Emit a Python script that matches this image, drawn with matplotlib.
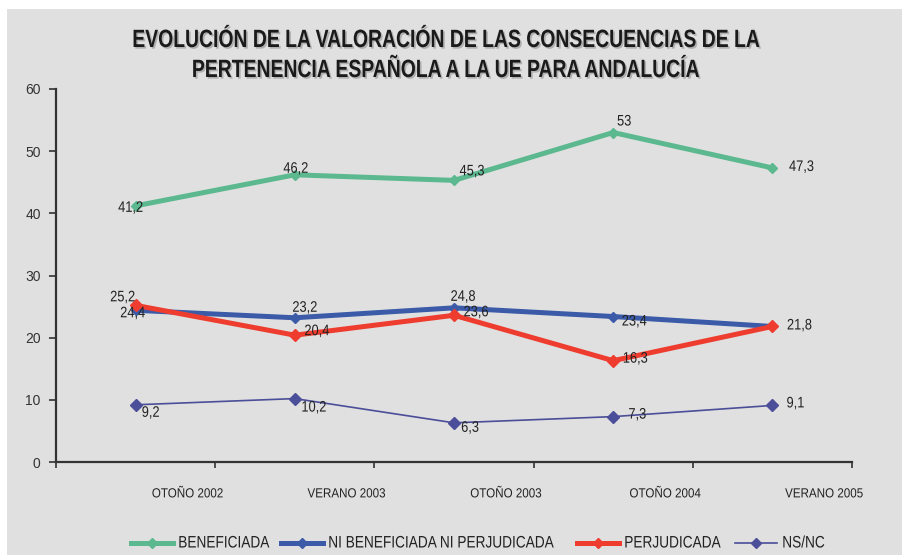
import matplotlib
matplotlib.use("Agg")
import matplotlib.pyplot as plt
import matplotlib.transforms as mtransforms
from matplotlib.transforms import Affine2D
from matplotlib.patches import Rectangle
from matplotlib.lines import Line2D
from matplotlib.patheffects import AbstractPathEffect

# ---------------- data ----------------
categories = ["OTOÑO 2002", "VERANO 2003", "OTOÑO 2003", "OTOÑO 2004", "VERANO 2005"]
beneficiada = [41.2, 46.2, 45.3, 53, 47.3]
ni_ni = [24.4, 23.2, 24.8, 23.4, 21.8]
perjudicada = [25.2, 20.4, 23.6, 16.3, 21.8]
nsnc = [9.2, 10.2, 6.3, 7.3, 9.1]
series_names = ["BENEFICIADA", "NI BENEFICIADA NI PERJUDICADA", "PERJUDICADA", "NS/NC"]
y_ticks = [0, 10, 20, 30, 40, 50, 60]
title_lines = ["EVOLUCIÓN DE LA VALORACIÓN DE LAS CONSECUENCIAS DE LA",
               "PERTENENCIA ESPAÑOLA A LA UE PARA ANDALUCÍA"]

# ---------------- styles ----------------
plt.rcParams["font.family"] = ["Liberation Sans", "DejaVu Sans"]


class Condense(AbstractPathEffect):
    """Horizontally squeeze text glyphs (emulates a narrow typeface)."""

    def __init__(self, sx=0.82, anchor="center", offset=(0, 0), color=None):
        super().__init__(offset)
        self._sx = sx
        self._anchor = anchor
        self._color = color

    def draw_path(self, renderer, gc, tpath, affine, rgbFace=None):
        ext = tpath.get_extents()
        cx = ext.x0 if self._anchor == "left" else (ext.x0 + ext.x1) / 2
        t = (Affine2D().translate(-cx, 0).scale(self._sx, 1).translate(cx, 0)
             + affine + self._offset_transform(renderer))
        if self._color is not None:
            gc0 = renderer.new_gc()
            gc0.copy_properties(gc)
            gc0.set_foreground(self._color)
            renderer.draw_path(gc0, tpath, t, matplotlib.colors.to_rgba(self._color))
            gc0.restore()
        else:
            renderer.draw_path(gc, tpath, t, rgbFace)


colors = ["#5cb88f", "#3b5ba8", "#ee3d2f", "#4b4e98"]
lws = [3.6, 3.6, 3.6, 1.2]
msizes = [5.5, 5.5, 6.5, 6.5]
# label offsets in pixels (dx, dy) for each series / point
offsets = [
    [(-5, -2), (1, 6), (18, 9), (11, 11), (29, 1)],
    [(-3, -3), (10, 10), (9, 11), (21, -5), (27, 1)],
    [(-13, 8), (22, 4), (22, 3), (22, 2), (27, 1)],
    [(15, -8), (19, -9), (16, -5), (24, 2), (23, 2)],
]
legend_x = [131, 281, 577, 735]   # left edge of each legend handle (px)

W, H = 903, 555
fig = plt.figure(figsize=(W / 100, H / 100), dpi=100, facecolor="white")
fig.patches.append(Rectangle((7 / W, 0), 1 - 7 / W, (H - 9) / H,
                             transform=fig.transFigure, facecolor="#e0e0e0",
                             edgecolor="none", zorder=-10))

ax = fig.add_axes([56 / W, (H - 462) / H, (852 - 56) / W, (462 - 89) / H])
ax.set_facecolor("none")

x = [i + 0.5 for i in range(len(categories))]
all_series = [beneficiada, ni_ni, perjudicada, nsnc]
for vals, c, lw, ms in zip(all_series, colors, lws, msizes):
    ax.plot(x, vals, color=c, lw=lw, marker="D", markersize=ms,
            markerfacecolor=c, markeredgecolor=c, zorder=3)

drawn = set()
for vals, offs in zip(all_series, offsets):
    for xi, v, (dx, dy) in zip(x, vals, offs):
        key = (xi, v, dx, dy)
        if key in drawn:
            continue
        drawn.add(key)
        ax.annotate(f"{v:g}".replace(".", ","), (xi, v), xytext=(dx, dy),
                    textcoords="offset pixels", ha="center", va="center",
                    fontsize=11, color="#222222", zorder=5,
                    path_effects=[Condense(0.84)])

ax.set_xlim(0, len(categories))
ax.set_ylim(0, 60)
ax.set_yticks(y_ticks)
ax.tick_params(axis="y", length=5, width=1.2, color="#333333", labelsize=10,
               labelcolor="#333333", pad=6)

# x axis: boundary ticks, category labels shifted
ax.set_xticks(range(len(categories) + 1))
ax.set_xticklabels([])
ax.tick_params(axis="x", which="major", length=4, width=1.2, color="#333333")
ax.set_xticks(x, minor=True)
ax.set_xticklabels(categories, minor=True)
ax.tick_params(axis="x", which="minor", length=0, pad=19, labelsize=9.5,
               labelcolor="#222222")
shift = mtransforms.ScaledTranslation(0.52, 0, fig.dpi_scale_trans)
for lab in ax.get_xticklabels(minor=True):
    lab.set_transform(lab.get_transform() + shift)
    lab.set_path_effects([Condense(0.88)])

for side in ["top", "right"]:
    ax.spines[side].set_visible(False)
for side in ["left", "bottom"]:
    ax.spines[side].set_color("#333333")
    ax.spines[side].set_linewidth(1.6)

# title
for i, line in enumerate(title_lines):
    fig.text(445 / W, 1 - (40 + 30 * i) / H, line, ha="center", va="center",
             fontsize=18, fontweight="bold", color="#1a1a1a",
             path_effects=[Condense(0.775, offset=(1.2, -1.2), color="#b0b0b0"),
                           Condense(0.775)])

# legend (manual, to match the narrow font layout)
ly = 1 - 543 / H
for lx, name, c, lw, ms in zip(legend_x, series_names, colors, lws, msizes):
    fig.add_artist(Line2D([lx / W, (lx + 42) / W], [ly, ly], color=c, lw=lw,
                          transform=fig.transFigure))
    fig.add_artist(Line2D([(lx + 21) / W], [ly], color=c, marker="D",
                          markersize=ms * 0.85, markerfacecolor=c,
                          markeredgecolor=c, transform=fig.transFigure))
    fig.text((lx + 47) / W, ly, name, ha="left", va="center", fontsize=12,
             color="#222222", path_effects=[Condense(0.82, anchor="left")])

fig.savefig("out.png", dpi=100, facecolor="white")
